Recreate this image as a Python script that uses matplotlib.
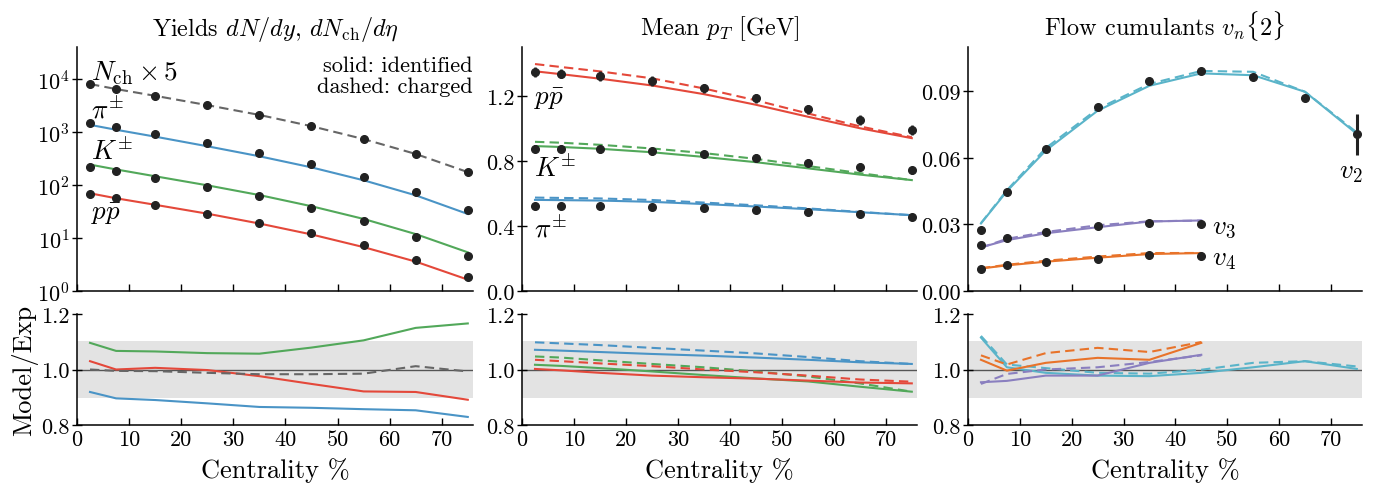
import numpy as np
import matplotlib
matplotlib.use("Agg")
import matplotlib.pyplot as plt
from matplotlib.ticker import FixedLocator, NullLocator, FixedFormatter

plt.rcParams['font.family'] = ['cmr10', 'DejaVu Serif']
plt.rcParams['mathtext.fontset'] = 'cm'
plt.rcParams['axes.formatter.use_mathtext'] = True
plt.rcParams['axes.unicode_minus'] = False

# ---------------- data ----------------
cent = [2.5, 7.5, 15, 25, 35, 45, 55, 65, 75]
cent_flow = [2.5, 7.5, 15, 25, 35, 45]

# yields (data)
nch_x5 = [8005, 6470, 4830, 3245, 2130, 1305, 745, 380, 176]
yield_pi = [1479, 1227, 916, 612, 402, 249, 143, 74.8, 34.2]
yield_k = [221, 184, 137, 93, 61, 36.8, 20.7, 10.3, 4.6]
yield_p = [67.6, 56.1, 42, 28.8, 19.2, 12.3, 7.3, 3.9, 1.84]
# model/exp ratios for yields
ratio_y_pi = [0.919, 0.896, 0.890, 0.878, 0.865, 0.862, 0.857, 0.853, 0.829]
ratio_y_k = [1.096, 1.067, 1.065, 1.059, 1.057, 1.079, 1.105, 1.150, 1.166]
ratio_y_p = [1.030, 1.000, 1.006, 0.998, 0.976, 0.948, 0.921, 0.919, 0.891]
ratio_y_nch = [1.000, 0.995, 0.994, 0.988, 0.983, 0.983, 0.985, 1.012, 0.993]

# mean pT (data)
mpt_pi = [0.523, 0.523, 0.523, 0.519, 0.509, 0.498, 0.486, 0.472, 0.457]
mpt_k = [0.876, 0.874, 0.870, 0.859, 0.841, 0.818, 0.788, 0.763, 0.741]
mpt_p = [1.348, 1.337, 1.321, 1.292, 1.245, 1.184, 1.116, 1.050, 0.989]
mpt_pi_err = [0.01, 0.01, 0.01, 0.01, 0.01, 0.01, 0.01, 0.01, 0.01]
mpt_k_err = [0.022, 0.022, 0.022, 0.022, 0.022, 0.022, 0.022, 0.022, 0.022]
mpt_p_err = [0.03, 0.03, 0.03, 0.03, 0.03, 0.03, 0.03, 0.03, 0.03]
# model/exp ratios for mean pT (solid: identified, dashed: charged)
ratio_m_pi = [1.071, 1.068, 1.063, 1.056, 1.050, 1.043, 1.035, 1.026, 1.020]
ratio_m_pi_ch = [1.098, 1.094, 1.088, 1.078, 1.068, 1.058, 1.045, 1.030, 1.020]
ratio_m_k = [1.017, 1.013, 1.005, 0.993, 0.980, 0.968, 0.957, 0.938, 0.920]
ratio_m_k_ch = [1.047, 1.043, 1.033, 1.020, 1.008, 0.993, 0.975, 0.950, 0.920]
ratio_m_p = [1.002, 0.997, 0.988, 0.978, 0.972, 0.967, 0.960, 0.953, 0.950]
ratio_m_p_ch = [1.035, 1.030, 1.022, 1.012, 1.000, 0.990, 0.978, 0.964, 0.956]

# flow (data)
v2 = [0.0273, 0.0446, 0.0641, 0.0831, 0.0948, 0.0993, 0.0965, 0.0872, 0.0707]
v2_err = [0.0005, 0.0005, 0.0005, 0.0005, 0.0005, 0.0005, 0.0005, 0.0005, 0.0092]
v3 = [0.0206, 0.0239, 0.0266, 0.0294, 0.0306, 0.0302]
v4 = [0.0098, 0.0116, 0.0129, 0.0144, 0.0161, 0.0156]
# model/exp ratios for flow
ratio_v2 = [1.115, 1.008, 0.988, 0.978, 0.976, 0.988, 1.008, 1.030, 1.002]
ratio_v2_ch = [1.121, 1.018, 1.005, 0.988, 0.985, 0.999, 1.024, 1.030, 1.011]
ratio_v3 = [0.954, 0.959, 0.978, 0.978, 1.024, 1.053]
ratio_v3_ch = [0.948, 0.984, 1.000, 1.008, 1.027, 1.051]
ratio_v4 = [1.035, 0.996, 1.024, 1.042, 1.035, 1.096]
ratio_v4_ch = [1.051, 1.018, 1.059, 1.078, 1.063, 1.099]

# ---------------- style ----------------
C_PI = '#4a94c6'
C_K = '#52a85a'
C_P = '#e4483a'
C_NCH = '#666666'
C_V2 = '#5ab4c9'
C_V3 = '#8a7fbf'
C_V4 = '#e8732a'
LW = 1.5
DASH = (4.5, 2.5)
MS = 5.5
TICK_FS = 16
LABEL_FS = 19
TITLE_FS = 17.5
SPEC_FS = 19.5

fig = plt.figure(figsize=(13.8, 4.85), dpi=100)

W = 1380.0
H = 485.0
lefts = [77, 522, 968]
rights = [473, 917, 1362]
top_t, top_b = 48, 292
bot_t, bot_b = 315, 426

axes_top = []
axes_bot = []
for l, r in zip(lefts, rights):
    at = fig.add_axes([l / W, 1 - top_b / H, (r - l) / W, (top_b - top_t) / H])
    ab = fig.add_axes([l / W, 1 - bot_b / H, (r - l) / W, (bot_b - bot_t) / H])
    axes_top.append(at)
    axes_bot.append(ab)

for ax in axes_top + axes_bot:
    for s in ['top', 'right']:
        ax.spines[s].set_visible(False)
    for s in ['left', 'bottom']:
        ax.spines[s].set_linewidth(1.1)
    ax.set_xlim(0, 76)
    ax.xaxis.set_major_locator(FixedLocator([0, 10, 20, 30, 40, 50, 60, 70]))
    ax.tick_params(axis='x', direction='in', length=5, width=1.0, labelsize=TICK_FS, pad=3)
    ax.tick_params(axis='y', direction='inout', length=7, width=1.0, labelsize=TICK_FS, pad=2)

for ax in axes_top:
    ax.tick_params(axis='x', labelbottom=False)

for ax in axes_bot:
    ax.axhspan(0.897, 1.103, color='#e3e3e3', lw=0, zorder=0)
    ax.axhline(1.0, color='#555555', lw=1.0, zorder=1)
    ax.set_ylim(0.8, 1.2)
    ax.yaxis.set_major_locator(FixedLocator([0.8, 1.0, 1.2]))
    ax.yaxis.set_major_formatter(FixedFormatter(['0.8', '1.0', '1.2']))
    ax.set_xlabel('Centrality %', fontsize=LABEL_FS, labelpad=6)
    ax.xaxis.set_major_formatter(FixedFormatter(['0', '10', '20', '30', '40', '50', '60', '70']))

axes_bot[0].set_ylabel('Model/Exp', fontsize=LABEL_FS, labelpad=2)

def model(data, ratio):
    return [d * r for d, r in zip(data, ratio)]

# ---------------- yields ----------------
ax = axes_top[0]
ax.set_yscale('log')
ax.set_ylim(1, 4e4)
ax.yaxis.set_major_locator(FixedLocator([1, 10, 100, 1000, 10000]))
ax.yaxis.set_minor_locator(NullLocator())
ax.plot(cent, model(nch_x5, ratio_y_nch), color=C_NCH, lw=LW, dashes=DASH)
ax.plot(cent, model(yield_pi, ratio_y_pi), color=C_PI, lw=LW)
ax.plot(cent, model(yield_k, ratio_y_k), color=C_K, lw=LW)
ax.plot(cent, model(yield_p, ratio_y_p), color=C_P, lw=LW)
for d in [nch_x5, yield_pi, yield_k, yield_p]:
    ax.plot(cent, d, 'o', color='#222222', ms=MS, zorder=5)
ax.set_title(r'Yields $dN/dy$, $dN_{\mathrm{ch}}/d\eta$', fontsize=TITLE_FS, pad=9)
ax.text(2.7, 1.0e4, r'$N_{\mathrm{ch}}\times 5$', fontsize=SPEC_FS, ha='left', va='baseline')
ax.text(2.7, 1.9e3, r'$\pi^{\pm}$', fontsize=SPEC_FS, ha='left', va='baseline')
ax.text(2.7, 3.1e2, r'$K^{\pm}$', fontsize=SPEC_FS, ha='left', va='baseline')
ax.text(2.7, 2.3e1, r'$p\bar{p}$', fontsize=SPEC_FS, ha='left', va='baseline')
ax.text(1.0, 0.965, 'solid: identified\ndashed: charged', transform=ax.transAxes,
        ha='right', va='top', fontsize=16, linespacing=1.1)

axb = axes_bot[0]
axb.plot(cent, ratio_y_k, color=C_K, lw=LW)
axb.plot(cent, ratio_y_p, color=C_P, lw=LW)
axb.plot(cent, ratio_y_pi, color=C_PI, lw=LW)
axb.plot(cent, ratio_y_nch, color=C_NCH, lw=LW, dashes=DASH)

# ---------------- mean pT ----------------
ax = axes_top[1]
ax.set_ylim(0, 1.5)
ax.yaxis.set_major_locator(FixedLocator([0.0, 0.4, 0.8, 1.2]))
ax.yaxis.set_major_formatter(FixedFormatter(['0.0', '0.4', '0.8', '1.2']))
for d, e, r, rc, c in [(mpt_pi, mpt_pi_err, ratio_m_pi, ratio_m_pi_ch, C_PI),
                       (mpt_k, mpt_k_err, ratio_m_k, ratio_m_k_ch, C_K),
                       (mpt_p, mpt_p_err, ratio_m_p, ratio_m_p_ch, C_P)]:
    ax.plot(cent, model(d, rc), color=c, lw=LW, dashes=DASH)
    ax.plot(cent, model(d, r), color=c, lw=LW)
    ax.errorbar(cent, d, yerr=e, fmt='o', color='#222222', ms=MS, elinewidth=1.8,
                capsize=0, zorder=5)
ax.set_title(r'Mean $p_T$ [GeV]', fontsize=TITLE_FS, pad=9)
ax.text(2.4, 1.15, r'$p\bar{p}$', fontsize=SPEC_FS, ha='left', va='baseline')
ax.text(2.4, 0.71, r'$K^{\pm}$', fontsize=SPEC_FS, ha='left', va='baseline')
ax.text(2.4, 0.338, r'$\pi^{\pm}$', fontsize=SPEC_FS, ha='left', va='baseline')

axb = axes_bot[1]
for r, rc, c in [(ratio_m_pi, ratio_m_pi_ch, C_PI),
                 (ratio_m_k, ratio_m_k_ch, C_K),
                 (ratio_m_p, ratio_m_p_ch, C_P)]:
    axb.plot(cent, rc, color=c, lw=LW, dashes=DASH)
    axb.plot(cent, r, color=c, lw=LW)

# ---------------- flow ----------------
ax = axes_top[2]
ax.set_ylim(0, 0.11)
ax.yaxis.set_major_locator(FixedLocator([0.0, 0.03, 0.06, 0.09]))
ax.yaxis.set_major_formatter(FixedFormatter(['0.00', '0.03', '0.06', '0.09']))
ax.plot(cent, model(v2, ratio_v2_ch), color=C_V2, lw=LW, dashes=DASH)
ax.plot(cent, model(v2, ratio_v2), color=C_V2, lw=LW)
ax.plot(cent_flow, model(v3, ratio_v3_ch), color=C_V3, lw=LW, dashes=DASH)
ax.plot(cent_flow, model(v3, ratio_v3), color=C_V3, lw=LW)
ax.plot(cent_flow, model(v4, ratio_v4_ch), color=C_V4, lw=LW, dashes=DASH)
ax.plot(cent_flow, model(v4, ratio_v4), color=C_V4, lw=LW)
ax.errorbar(cent, v2, yerr=v2_err, fmt='o', color='#222222', ms=MS, elinewidth=2.2,
            capsize=0, zorder=5)
ax.plot(cent_flow, v3, 'o', color='#222222', ms=MS, zorder=5)
ax.plot(cent_flow, v4, 'o', color='#222222', ms=MS, zorder=5)
ax.set_title(r'Flow cumulants $v_n\{2\}$', fontsize=TITLE_FS, pad=9)
ax.text(73.8, 0.0513, r'$v_2$', fontsize=SPEC_FS, ha='center', va='baseline')
ax.text(47.1, 0.0265, r'$v_3$', fontsize=SPEC_FS, ha='left', va='baseline')
ax.text(47.1, 0.0121, r'$v_4$', fontsize=SPEC_FS, ha='left', va='baseline')

axb = axes_bot[2]
axb.plot(cent, ratio_v2_ch, color=C_V2, lw=LW, dashes=DASH)
axb.plot(cent, ratio_v2, color=C_V2, lw=LW)
axb.plot(cent_flow, ratio_v4_ch, color=C_V4, lw=LW, dashes=DASH)
axb.plot(cent_flow, ratio_v4, color=C_V4, lw=LW)
axb.plot(cent_flow, ratio_v3_ch, color=C_V3, lw=LW, dashes=DASH)
axb.plot(cent_flow, ratio_v3, color=C_V3, lw=LW)

fig.savefig('out.png', dpi=100)
